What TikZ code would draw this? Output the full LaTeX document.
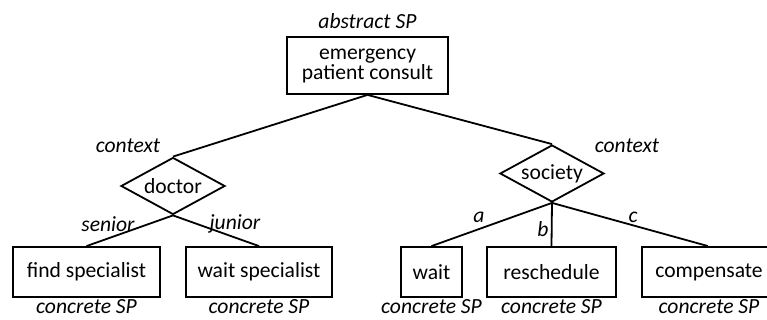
\documentclass[tikz,border=0pt]{standalone}
\usepackage{fontspec}
\setmainfont{Carlito}
\usetikzlibrary{shapes.geometric}

\begin{document}
\begin{tikzpicture}[x=0.5pt,y=-0.5pt,line width=0.9pt]
        \tikzstyle{spbox}=[
            rectangle,
            draw=black,
            inner sep=0pt,
            minimum height=25pt,
            font=\fontsize{10.8}{10}\selectfont
        ]
        \tikzstyle{ctxnode}=[
            diamond,
            draw=black,
            inner sep=0pt,
            aspect=1.8,
            minimum width=52pt,
            minimum height=28.5pt,
            font=\fontsize{10.8}{13}\selectfont
        ]
        \tikzstyle{tag}=[
            inner sep=0pt,
            font=\fontsize{10.8}{13}\selectfont\itshape
        ]

        \useasboundingbox (0,0) rectangle (767,320);

        \node[spbox, minimum width=80.5pt, minimum height=28.5pt, align=center] (consult) at (367.5,65.5){emergency\\patient consult};
        \node[ctxnode] (doctor) at (173,186){doctor};
        \node[ctxnode] (society) at (552,173.5){society};

        \node[spbox, minimum width=73.5pt] (find) at (86.5,272){find specialist};
        \node[spbox, minimum width=73pt] (waitsp) at (259,272){wait specialist};
        \node[spbox, minimum width=30.5pt] (wait) at (431.5,272){wait};
        \node[spbox, minimum width=64.5pt] (resched) at (551.5,272){reschedule};
        % box runs past the right edge
        \node[spbox, minimum width=72pt] (comp) at (714,272){\hspace*{-5pt}compensate};

        \node[tag] (abstr) at (367.5,21){abstract SP};
        \node[tag] (ctxl) at (128,146){context};
        \node[tag] (ctxr) at (627,146){context};
        \node[tag] (sen) at (108,224){senior};
        \node[tag] (jun) at (235,224){junior};
        \node[tag] (la) at (479,217){a};
        \node[tag] (lb) at (543,229){b};
        \node[tag] (lc) at (633,217){c};

        \node[tag] (cfind) at (86.5,307){concrete SP};
        \node[tag] (cwaitsp) at (259,307){concrete SP};
        \node[tag] (cwait) at (431.5,307){concrete SP};
        \node[tag] (cresched) at (551.5,307){concrete SP};
        \node[tag] (ccomp) at (709,307){concrete SP};

        \draw (consult.south) -- (doctor.north);
        \draw (consult.south) -- (society.north);
        \draw (doctor.south) -- (find.north);
        \draw (doctor.south) -- (waitsp.north);
        \draw (society.south) -- (wait.north);
        \draw (society.south) -- (resched.north);
        \draw (society.south) -- ([xshift=-3pt]comp.north);

    \end{tikzpicture}
\end{document}
